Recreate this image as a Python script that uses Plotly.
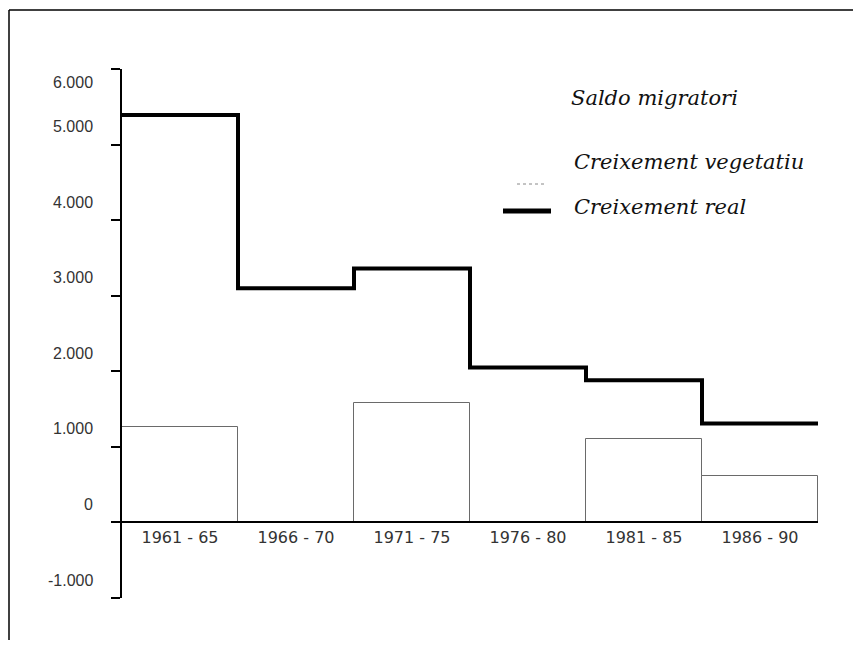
import plotly.graph_objects as go

# ---- data ----
periods = ["1961 - 65", "1966 - 70", "1971 - 75", "1976 - 80", "1981 - 85", "1986 - 90"]
creixement_real = [5390, 3100, 3360, 2050, 1880, 1310]
creixement_vegetatiu = [1260, None, 1580, None, 1110, 620]
ytick_vals = [6000, 5000, 4000, 3000, 2000, 1000, 0, -1000]
ytick_text = ["6.000", "5.000", "4.000", "3.000", "2.000", "1.000", "0", "-1.000"]
legend_labels = ["Saldo migratori", "Creixement vegetatiu", "Creixement real"]

y_range = [-1000, 6000]
xs = list(range(len(periods)))
edges = [i - 0.5 for i in xs] + [xs[-1] + 0.5]

fig = go.Figure()

fig.add_trace(go.Bar(
    x=xs, y=creixement_vegetatiu, width=1.0,
    marker=dict(color="white", line=dict(color="#6a6a6a", width=1)),
    showlegend=False, name=legend_labels[1],
))

fig.add_trace(go.Scatter(
    x=edges, y=creixement_real + [creixement_real[-1]],
    mode="lines", line=dict(color="black", width=4, shape="hv"),
    showlegend=False, name=legend_labels[2],
))

# page offset (body margin) compensation
OFF = 8
PAGE_W, PAGE_H = 861, 656
W, H = PAGE_W - 2 * OFF, PAGE_H - 3 * OFF
L, T = 122 - OFF, 69 - OFF
R = (OFF + W) - 818
B = (OFF + H) - 598
pw, ph = W - L - R, H - T - B

def px(x):
    return (x - OFF - L) / pw

def py(y):
    return (H - B - (y - OFF)) / ph

shapes = [
    # frame (scan border)
    dict(type="line", xref="paper", yref="paper", x0=px(9), x1=px(9), y0=py(OFF + H), y1=py(10),
         line=dict(color="black", width=1.5)),
    dict(type="line", xref="paper", yref="paper", x0=px(9), x1=px(OFF + W), y0=py(10), y1=py(10),
         line=dict(color="black", width=1.5)),
    # legend symbols
    dict(type="line", xref="paper", yref="paper", x0=px(517), x1=px(547), y0=py(184), y1=py(184),
         line=dict(color="#888888", width=1, dash="dot")),
    dict(type="line", xref="paper", yref="paper", x0=px(503), x1=px(551), y0=py(211), y1=py(211),
         line=dict(color="black", width=5)),
]

annotations = []
legend_pos = [(569, 98), (572, 162), (572, 207)]
for lab, (lx, ly) in zip(legend_labels, legend_pos):
    annotations.append(dict(
        text=lab, xref="paper", yref="paper", x=px(lx), y=py(ly),
        xanchor="left", yanchor="middle", showarrow=False,
        font=dict(family="DejaVu Serif", size=21, color="#111111", style="italic"),
    ))

for v, t in zip(ytick_vals, ytick_text):
    annotations.append(dict(
        text=t, xref="paper", yref="y", x=0, y=v, xanchor="right", yanchor="middle",
        xshift=-27, yshift=(-13 if v == max(ytick_vals) else 18), showarrow=False,
        font=dict(family="Liberation Sans", size=16, color="#333333"),
    ))

fig.update_layout(
    width=W, height=H,
    margin=dict(l=L, r=R, t=T, b=B, pad=0),
    paper_bgcolor="white", plot_bgcolor="white",
    bargap=0, showlegend=False,
    shapes=shapes, annotations=annotations,
    xaxis=dict(
        range=[edges[0], edges[-1]], tickmode="array", tickvals=xs, ticktext=periods,
        anchor="free", position=(0 - y_range[0]) / (y_range[1] - y_range[0]),
        showline=True, linecolor="black", linewidth=2, ticks="", showgrid=False, zeroline=False,
        tickfont=dict(family="DejaVu Sans", size=16, color="#333333"),
    ),
    yaxis=dict(
        range=y_range, tickmode="array", tickvals=ytick_vals, showticklabels=False,
        showline=True, linecolor="black", linewidth=2, ticks="outside", ticklen=9,
        tickwidth=2, tickcolor="black", showgrid=False, zeroline=False,
    ),
)

fig.write_html("out.html")
